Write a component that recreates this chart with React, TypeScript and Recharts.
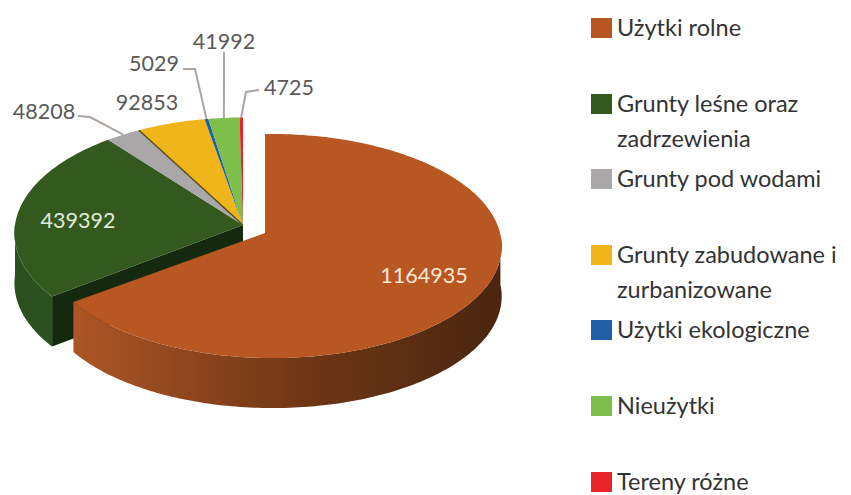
import { PieChart, Pie, Legend } from 'recharts';

const names = [
  'Użytki rolne',
  'Grunty leśne oraz zadrzewienia',
  'Grunty pod wodami',
  'Grunty zabudowane i zurbanizowane',
  'Użytki ekologiczne',
  'Nieużytki',
  'Tereny różne',
];
const values = [1164935, 439392, 48208, 92853, 5029, 41992, 4725];
const colors = ['#b95722', '#33591f', '#a9a7a7', '#f0b518', '#1f5fa8', '#7dbf4a', '#e8262a'];

const FONT = 'Lato, sans-serif';
const DEPTH = 50;
const RADIUS = 228;
const CUT_COLOR = '#14290f';

// the big slice is pulled out and drawn last so it covers the wall of the green one
const total = values.reduce((a, b) => a + b, 0);
const firstSweep = (values[0] / total) * 360;
const startAngle = 90 - firstSweep;
const rows = names.map((name, i) => ({ name, value: values[i], fill: colors[i] }));
const chartData = [...rows.slice(1), rows[0]];

// flat pie projected with a little perspective
function tilt(name: string) {
  return name === names[0]
    ? { dx: 22, dy: 8, ry: 110.5, k: 0.116, h: 0.03 }
    : { dx: 0, dy: 0, ry: 115, k: 0.07, h: 0 };
}

function project(name: string, cx: number, cy: number, r: number, deg: number) {
  const t = tilt(name);
  const a = (deg * Math.PI) / 180;
  const u = Math.cos(a);
  const v = -Math.sin(a);
  const w = 1 - t.k * v - t.h * u;
  return { x: cx + t.dx + (r * u) / w, y: cy + t.dy + (t.ry * v) / w, v };
}

function arcPoints(name: string, cx: number, cy: number, r: number, from: number, to: number) {
  const n = Math.max(2, Math.ceil(Math.abs(from - to)));
  const pts = [];
  for (let i = 0; i <= n; i++) pts.push(project(name, cx, cy, r, from + ((to - from) * i) / n));
  return pts;
}

const toPath = (pts: { x: number; y: number }[]) =>
  pts.map((p, i) => `${i ? 'L' : 'M'}${p.x.toFixed(1)} ${p.y.toFixed(1)}`).join(' ') + ' Z';

function Slice3D(props: any) {
  const { cx, cy, outerRadius, startAngle: from, endAngle: to, fill } = props;
  const name = props.name ?? props.payload?.name;
  const t = tilt(name);
  const apex = { x: cx + t.dx, y: cy + t.dy };
  const arc = arcPoints(name, cx, cy, outerRadius, from, to);
  const front = arc.filter((p) => p.v >= 0);
  const isBig = name === names[0];
  const isGreen = name === names[1];
  const wallFill = isBig ? 'url(#bigWall)' : '#2c5020';
  const wall =
    front.length > 1
      ? [...front, ...[...front].reverse().map((p) => ({ x: p.x, y: p.y + DEPTH }))]
      : null;
  const corner = arc[0];
  return (
    <g>
      <defs>
        <linearGradient id="bigWall" x1="0" y1="0" x2="1" y2="0">
          <stop offset="0" stopColor="#ad5526" />
          <stop offset="0.53" stopColor="#6f3715" />
          <stop offset="1" stopColor="#4a2510" />
        </linearGradient>
      </defs>
      {wall && <path d={toPath(wall)} fill={wallFill} />}
      {isGreen && (
        <path
          d={toPath([
            apex,
            corner,
            { x: corner.x, y: corner.y + DEPTH },
            { x: apex.x, y: apex.y + DEPTH },
          ])}
          fill={CUT_COLOR}
        />
      )}
      <path d={toPath([apex, ...arc])} fill={fill} />
      {name === names[3] && (
        <line x1={apex.x} y1={apex.y} x2={corner.x} y2={corner.y} stroke="#5a4a20" strokeWidth={1.5} />
      )}
    </g>
  );
}

// where the value labels sit, with the elbow of the leader line if there is one
const labelSpots: Record<string, { x: number; y: number; color: string; line?: number[] }> = {
  [names[0]]: { x: 424, y: 275, color: '#fbe8d8' },
  [names[1]]: { x: 78, y: 220, color: '#e2ebd9' },
  [names[2]]: { x: 44, y: 111, color: '#595959', line: [78, 116, 90, 117] },
  [names[3]]: { x: 147, y: 102, color: '#595959' },
  [names[4]]: { x: 154, y: 63, color: '#595959', line: [183, 69, 195, 69] },
  [names[5]]: { x: 224, y: 41, color: '#595959', line: [224, 52, 224, 70] },
  [names[6]]: { x: 289, y: 87, color: '#595959', line: [259, 90, 246, 92] },
};

function ValueLabel(props: any) {
  const { cx, cy, outerRadius, midAngle, value } = props;
  const name = props.name ?? props.payload?.name;
  const spot = labelSpots[name];
  const end = project(name, cx, cy, outerRadius, midAngle);
  return (
    <g>
      {spot.line && (
        <polyline
          points={`${spot.line.join(' ')} ${end.x.toFixed(1)} ${end.y.toFixed(1)}`}
          fill="none"
          stroke="#aca6a2"
          strokeWidth={2}
        />
      )}
      <text
        x={spot.x}
        y={spot.y}
        textAnchor="middle"
        dominantBaseline="central"
        fontFamily={FONT}
        fontSize={21.5}
        fill={spot.color}
      >
        {value}
      </text>
    </g>
  );
}

function SideLegend() {
  return (
    <div style={{ fontFamily: FONT, fontSize: 23.5, color: '#333', lineHeight: '35px' }}>
      {names.map((name, i) => (
        <div key={name} style={{ position: 'relative', height: 75.6, paddingLeft: 26, width: 234 }}>
          <span
            style={{
              position: 'absolute',
              left: 0,
              top: 8,
              width: 21,
              height: 20,
              background: colors[i],
            }}
          />
          {name}
        </div>
      ))}
    </div>
  );
}

export default function App() {
  return (
    <div style={{ position: 'absolute', left: 0, top: 0, background: '#fff' }}>
      <PieChart width={851} height={495} margin={{ top: 0, right: 0, bottom: 0, left: 0 }}>
        <Pie
          data={chartData}
          dataKey="value"
          nameKey="name"
          cx={243}
          cy={225}
          innerRadius={0}
          outerRadius={RADIUS}
          startAngle={startAngle}
          endAngle={startAngle - 360}
          stroke="none"
          shape={Slice3D}
          label={ValueLabel}
          labelLine={false}
          isAnimationActive={false}
        />
        <Legend
          content={<SideLegend />}
          wrapperStyle={{ position: 'absolute', left: 591, top: 10, bottom: 'auto', width: 260 }}
        />
      </PieChart>
    </div>
  );
}
